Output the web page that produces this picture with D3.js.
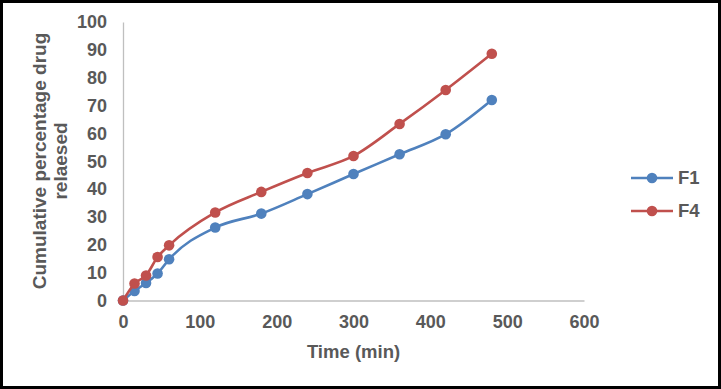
<!DOCTYPE html>
<html>
<head>
<meta charset="utf-8">
<script src="https://cdn.jsdelivr.net/npm/d3@7"></script>
<style>
  body { margin: 0; background: #fff; }
  svg { display: block; font-family: "Liberation Sans", Arial, sans-serif; }
</style>
</head>
<body>
<svg id="chart" width="721" height="389"></svg>
<script>
// Release profile, F1 vs F4
const times = [0, 15, 30, 45, 60, 120, 180, 240, 300, 360, 420, 480];
const f1 = [0, 3.4, 6.3, 9.7, 14.8, 26.2, 31.2, 38.2, 45.4, 52.5, 59.7, 72];
const f4 = [0, 6.1, 9.0, 15.6, 19.8, 31.6, 39, 45.8, 51.9, 63.4, 75.6, 88.6];
const seriesNames = ["F1", "F4"];
const colors = ["#4F81BD", "#C0504D"];
const xTicks = [0, 100, 200, 300, 400, 500, 600];
const yTicks = [0, 10, 20, 30, 40, 50, 60, 70, 80, 90, 100];

const svg = d3.select("#chart");
const W = 721, H = 389;
const margin = { left: 123, top: 22, right: 137, bottom: 88 };

// frame
svg.append("rect").attr("x", 1.5).attr("y", 1.5)
  .attr("width", W - 3).attr("height", H - 3)
  .attr("fill", "#fff").attr("stroke", "#000").attr("stroke-width", 3);

const x = d3.scaleLinear().domain([0, 600]).range([margin.left, W - margin.right]);
const y = d3.scaleLinear().domain([0, 100]).range([H - margin.bottom - 0.5, margin.top]);

const textCol = "#595959";
const font = "Liberation Sans, Arial, sans-serif";

// axes
const xAxis = svg.append("g").attr("transform", `translate(0,${y(0)})`)
  .call(d3.axisBottom(x).tickValues(xTicks).tickSize(0).tickPadding(15));
xAxis.select(".domain").attr("stroke", "#BFBFBF").attr("stroke-width", 1.3);
xAxis.selectAll("text").attr("font-size", 18).attr("font-weight", "bold")
  .attr("fill", textCol).attr("font-family", font);

const yAxis = svg.append("g").attr("transform", `translate(${x(0)},0)`)
  .call(d3.axisLeft(y).tickValues(yTicks).tickSize(0).tickPadding(16));
yAxis.select(".domain").attr("stroke", "#BFBFBF").attr("stroke-width", 1.3);
yAxis.selectAll("text").attr("font-size", 18).attr("font-weight", "bold")
  .attr("fill", textCol).attr("font-family", font);

// axis titles
svg.append("text").attr("x", x(300)).attr("y", 358)
  .attr("text-anchor", "middle").attr("font-size", 18.5).attr("font-weight", "bold")
  .attr("fill", textCol).text("Time (min)");

const yt = svg.append("text").attr("transform", "translate(46,161) rotate(-90)")
  .attr("text-anchor", "middle").attr("font-size", 19).attr("font-weight", "bold")
  .attr("fill", textCol);
yt.append("tspan").attr("x", 0).attr("dy", 0).text("Cumulative percentage drug");
yt.append("tspan").attr("x", 0).attr("dy", 21).text("relaesed");

// series
const line = d3.line().x(d => x(d[0])).y(d => y(d[1])).curve(d3.curveMonotoneX);
[f1, f4].forEach((vals, i) => {
  const pts = times.map((t, j) => [t, vals[j]]);
  svg.append("path").datum(pts).attr("d", line)
    .attr("fill", "none").attr("stroke", colors[i]).attr("stroke-width", 2.6);
  svg.append("g").selectAll("circle").data(pts).join("circle")
    .attr("cx", d => x(d[0])).attr("cy", d => y(d[1])).attr("r", 5.3)
    .attr("fill", colors[i]);
});

// legend
const leg = svg.append("g");
seriesNames.forEach((name, i) => {
  const ly = 178 + i * 33;
  leg.append("line").attr("x1", 631).attr("x2", 673).attr("y1", ly).attr("y2", ly)
    .attr("stroke", colors[i]).attr("stroke-width", 2.6);
  leg.append("circle").attr("cx", 652).attr("cy", ly).attr("r", 5.3).attr("fill", colors[i]);
  leg.append("text").attr("x", 678).attr("y", ly).attr("dy", "0.35em")
    .attr("font-size", 18.5).attr("font-weight", "bold").attr("fill", textCol).text(name);
});
</script>
</body>
</html>
